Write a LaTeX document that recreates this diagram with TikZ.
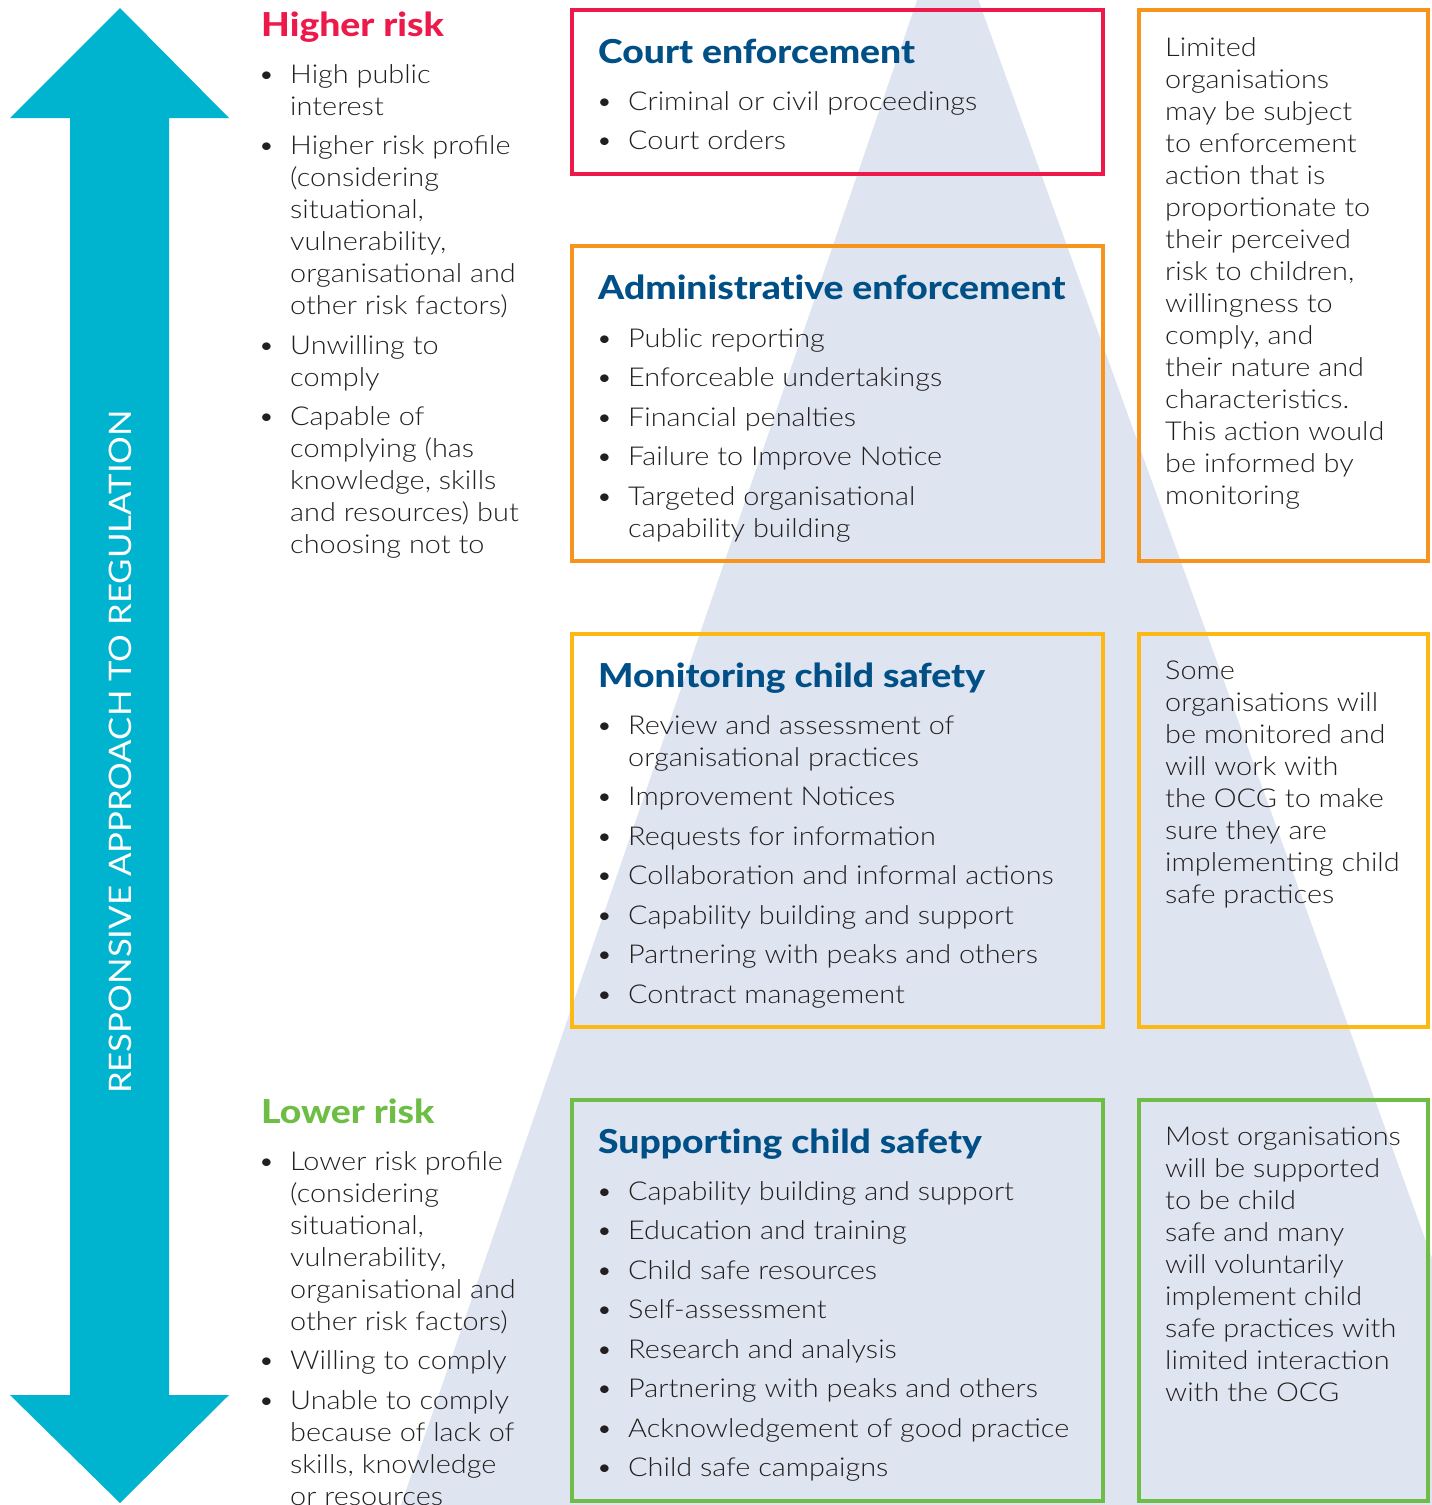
\documentclass[tikz,border=0pt]{standalone}
\usepackage{fontspec}
\setmainfont{Lato}
\IfFontExistsTF{Lato Light}{\newfontfamily\bodyfont{Lato Light}[FakeStretch=1.11]}{\newfontfamily\bodyfont{Lato}[FakeStretch=1.11]}
\IfFontExistsTF{Lato Heavy}{\newfontfamily\headfont{Lato Heavy}[FakeStretch=1.13,Ligatures=NoCommon]}{\newfontfamily\headfont{Lato Bold}[FakeStretch=1.15,Ligatures=NoCommon]}
\newfontfamily\labelfont{Lato}[FakeStretch=1.12]
\definecolor{arrowcyan}{RGB}{0,180,208}
\definecolor{pyramid}{RGB}{223,229,240}
\definecolor{riskred}{RGB}{237,25,75}
\definecolor{adminorange}{RGB}{247,148,30}
\definecolor{monyellow}{RGB}{253,184,19}
\definecolor{supgreen}{RGB}{110,190,70}
\definecolor{headblue}{RGB}{0,80,135}
\definecolor{ink}{RGB}{35,31,32}
\newcommand\bl{\makebox[32pt][l]{\textbullet}}
\newcommand\ind{\hspace*{32pt}}
\newcommand\fst{\rule{0pt}{24pt}}
\begin{document}
\begin{tikzpicture}[x=1pt,y=-1pt,line join=miter,
  head/.style={anchor=base west,inner sep=0,font=\headfont\fontsize{33}{40}\selectfont,text=headblue},
  body/.style={anchor=north west,inner sep=0,align=left,font=\bodyfont\fontsize{26}{32}\selectfont,text=ink},
  frame/.style={draw,line width=4.5pt}]
\useasboundingbox (0,0) rectangle (1432,1505);
% pyramid behind everything
\begin{scope}
\clip (0,0) rectangle (1432,1505);
\fill[pyramid] (947,-87)--(401,1505)--(1521,1505)--cycle;
\end{scope}
% double arrow
\fill[arrowcyan] (120,8)--(229,118)--(169,118)--(169,1395)--(229,1395)--(120,1503)
  --(10,1395)--(70,1395)--(70,118)--(10,118)--cycle;
\node (label) at (120,752) [rotate=90,text=white,font=\labelfont\fontsize{31}{36}\selectfont]{RESPONSIVE APPROACH TO REGULATION};
% risk columns
\node (higher) at (261,36) [head,text=riskred]{Higher risk};
\node (higherlist) at (258,59) [body]{\fst\bl High public\\ \ind interest\\[7.5pt]
  \bl Higher risk profile\\ \ind (considering\\ \ind situational,\\ \ind vulnerability,\\ \ind organisational and\\ \ind other risk factors)\\[7.5pt]
  \bl Unwilling to\\ \ind comply\\[7.5pt]
  \bl Capable of\\ \ind complying (has\\ \ind knowledge, skills\\ \ind and resources) but\\ \ind choosing not to};
\node (lower) at (261,1123) [head,text=supgreen]{Lower risk};
\node (lowerlist) at (258,1146) [body]{\fst\bl Lower risk profile\\ \ind (considering\\ \ind situational,\\ \ind vulnerability,\\ \ind organisational and\\ \ind other risk factors)\\[7.5pt]
  \bl Willing to comply\\[7.5pt]
  \bl Unable to comply\\ \ind because of lack of\\ \ind skills, knowledge\\ \ind or resources};
% boxes
\draw[frame,riskred] (572,10) rectangle (1103,174);
\draw[frame,adminorange] (572,246) rectangle (1103,561);
\draw[frame,adminorange] (1139,10) rectangle (1428,561);
\draw[frame,monyellow] (572,634) rectangle (1103,1027);
\draw[frame,monyellow] (1139,634) rectangle (1428,1027);
\draw[frame,supgreen] (572,1100) rectangle (1103,1501);
\draw[frame,supgreen] (1139,1100) rectangle (1428,1501);
\node (court) at (598,63) [head]{Court enforcement};
\node (courtlist) at (596,86) [body]{\fst\bl Criminal or civil proceedings\\[7.5pt] \bl Court orders};
\node (admin) at (598,299) [head]{Administrative enforcement};
\node (adminlist) at (596,323) [body]{\fst\bl Public reporting\\[7.5pt] \bl Enforceable undertakings\\[7.5pt]
  \bl Financial penalties\\[7.5pt] \bl Failure to Improve Notice\\[7.5pt]
  \bl Targeted organisational\\ \ind capability building};
\node (monitor) at (598,687) [head]{Monitoring child safety};
\node (monitorlist) at (596,710) [body]{\fst\bl Review and assessment of\\ \ind organisational practices\\[7.5pt]
  \bl Improvement Notices\\[7.5pt] \bl Requests for information\\[7.5pt]
  \bl Collaboration and informal actions\\[7.5pt] \bl Capability building and support\\[7.5pt]
  \bl Partnering with peaks and others\\[7.5pt] \bl Contract management};
\node (support) at (598,1153) [head]{Supporting child safety};
\node (supportlist) at (596,1176) [body]{\fst\bl Capability building and support\\[7.5pt] \bl Education and training\\[7.5pt]
  \bl Child safe resources\\[7.5pt] \bl Self-assessment\\[7.5pt] \bl Research and analysis\\[7.5pt]
  \bl Partnering with peaks and others\\[7.5pt] \bl Acknowledgement of good practice\\[7.5pt]
  \bl Child safe campaigns};
% side notes
\node (limited) at (1165,32) [body]{\fst Limited\\organisations\\may be subject\\to enforcement\\action that is\\proportionate to\\their perceived\\risk to children,\\willingness to\\comply, and\\their nature and\\characteristics.\\This action would\\be informed by\\monitoring};
\node (some) at (1165,655) [body]{\fst Some\\organisations will\\be monitored and\\will work with\\the OCG to make\\sure they are\\implementing child\\safe practices};
\node (most) at (1165,1121) [body]{\fst Most organisations\\will be supported\\to be child\\safe and many\\will voluntarily\\implement child\\safe practices with\\limited interaction\\with the OCG};
\end{tikzpicture}
\end{document}
